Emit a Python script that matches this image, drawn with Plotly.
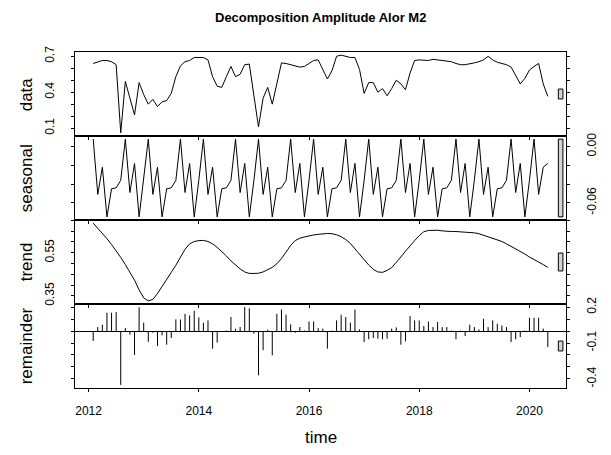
import plotly.graph_objects as go
from plotly.subplots import make_subplots

# ---------------- data ----------------
start_year = 2012
start_month = 2  # February

data = [0.64, 0.655, 0.665, 0.665, 0.655, 0.63, 0.06, 0.49, 0.35, 0.21,
        0.48, 0.38, 0.30, 0.34, 0.28, 0.32, 0.33, 0.39, 0.53, 0.62,
        0.655, 0.665, 0.69, 0.69, 0.69, 0.67, 0.53, 0.45, 0.44, 0.53,
        0.615, 0.53, 0.55, 0.63, 0.635, 0.37, 0.11, 0.35, 0.44, 0.30,
        0.48, 0.645, 0.64, 0.63, 0.615, 0.61, 0.615, 0.64, 0.665, 0.67,
        0.59, 0.51, 0.58, 0.70, 0.71, 0.70, 0.69, 0.69, 0.59, 0.39,
        0.48, 0.48, 0.40, 0.43, 0.37, 0.43, 0.50, 0.47, 0.42, 0.56,
        0.665, 0.67, 0.67, 0.665, 0.675, 0.67, 0.665, 0.66, 0.655, 0.64,
        0.63, 0.63, 0.635, 0.645, 0.655, 0.67, 0.70, 0.67, 0.65, 0.64,
        0.63, 0.61, 0.545, 0.47, 0.515, 0.585, 0.615, 0.64, 0.47, 0.365]

seasonal = [0.008, -0.051, -0.022, -0.075, -0.045, -0.044, -0.036, 0.008, -0.049, -0.018, -0.075, -0.036,
            0.008, -0.051, -0.022, -0.075, -0.045, -0.044, -0.036, 0.008, -0.049, -0.018, -0.075, -0.036,
            0.008, -0.051, -0.022, -0.075, -0.045, -0.044, -0.036, 0.008, -0.049, -0.018, -0.075, -0.036,
            0.008, -0.051, -0.022, -0.075, -0.045, -0.044, -0.036, 0.008, -0.049, -0.018, -0.075, -0.036,
            0.008, -0.051, -0.022, -0.075, -0.045, -0.044, -0.036, 0.008, -0.049, -0.018, -0.075, -0.036,
            0.008, -0.051, -0.022, -0.075, -0.045, -0.044, -0.036, 0.008, -0.049, -0.018, -0.075, -0.036,
            0.008, -0.051, -0.022, -0.075, -0.045, -0.044, -0.036, 0.008, -0.049, -0.018, -0.075, -0.036,
            0.008, -0.051, -0.022, -0.075, -0.045, -0.044, -0.036, 0.008, -0.049, -0.018, -0.075, -0.036,
            0.008, -0.051, -0.022, -0.018]

trend = [0.687, 0.664, 0.639, 0.615, 0.588, 0.559, 0.528, 0.495, 0.461, 0.423,
         0.378, 0.341, 0.327, 0.334, 0.361, 0.392, 0.423, 0.459, 0.492, 0.530,
         0.566, 0.591, 0.602, 0.606, 0.607, 0.602, 0.591, 0.575, 0.557, 0.535,
         0.512, 0.493, 0.475, 0.461, 0.454, 0.454, 0.455, 0.461, 0.470, 0.482,
         0.499, 0.523, 0.553, 0.584, 0.606, 0.617, 0.623, 0.629, 0.632, 0.635,
         0.638, 0.639, 0.638, 0.633, 0.624, 0.611, 0.593, 0.568, 0.544, 0.517,
         0.493, 0.473, 0.461, 0.459, 0.468, 0.481, 0.504, 0.530, 0.557, 0.579,
         0.606, 0.629, 0.647, 0.653, 0.655, 0.654, 0.651, 0.648, 0.648, 0.648,
         0.647, 0.647, 0.645, 0.642, 0.638, 0.631, 0.625, 0.619, 0.611, 0.602,
         0.591, 0.580, 0.566, 0.555, 0.544, 0.530, 0.519, 0.506, 0.495, 0.482]

remainder = [-0.083, 0.033, 0.053, 0.153, 0.153, 0.158, -0.45, 0.025, -0.03, -0.20,
             0.20, 0.07, -0.09, -0.014, -0.125, -0.036, -0.114, -0.058, 0.097, 0.097,
             0.144, 0.13, 0.17, 0.114, 0.07, 0.089, -0.147, -0.097, -0.005, 0.005,
             0.117, 0.019, 0.033, 0.20, 0.19, -0.022, -0.37, -0.16, 0.011, -0.203,
             0.144, 0.18, 0.136, 0.056, -0.014, 0.033, 0.005, 0.08, 0.08, 0.025,
             0.02, -0.147, 0.004, 0.089, 0.136, 0.117, 0.07, 0.18, 0.014, -0.092,
             -0.069, -0.058, -0.064, -0.069, -0.064, 0.02, 0.03, -0.114, -0.086, 0.125,
             0.089, 0.089, 0.042, 0.08, 0.033, 0.075, 0.033, 0.033, 0.004, -0.069,
             0.004, -0.042, 0.053, 0.033, 0.014, 0.103, 0.033, 0.089, 0.061, 0.047,
             0.033, -0.092, -0.069, -0.05, 0.004, 0.111, 0.111, 0.111, 0.02, -0.133]

panel_names = ["data", "seasonal", "trend", "remainder"]
x_tick_vals = [2012, 2014, 2016, 2018, 2020]
x_tick_text = ["2012", "2014", "2016", "2018", "2020"]

data_ticks = [0.1, 0.2, 0.3, 0.4, 0.5, 0.6, 0.7]
data_ticktext = ["0.1", "", "", "0.4", "", "", "0.7"]
seasonal_ticks = [-0.06, -0.04, -0.02, 0.00]
seasonal_ticktext = ["-0.06", "", "", "0.00"]
trend_ticks = [0.35, 0.40, 0.45, 0.50, 0.55, 0.60, 0.65, 0.70]
trend_ticktext = ["0.35", "", "", "", "0.55", "", "", ""]
remainder_ticks = [-0.4, -0.3, -0.2, -0.1, 0.0, 0.1, 0.2]
remainder_ticktext = ["-0.4", "", "", "-0.1", "", "", "0.2"]

title_text = "Decomposition Amplitude Alor M2"
x_title = "time"

# ---------------- figure ----------------
FONT = "Liberation Sans, Arial, sans-serif"
n = len(data)
t = [start_year + (start_month - 1 + i) / 12.0 for i in range(n)]
tmin, tmax = min(t), max(t)
xpad = 0.04 * (tmax - tmin)
xr = [tmin - xpad, tmax + xpad]

series = [data, seasonal, trend, remainder]
ticks = [(data_ticks, data_ticktext), (seasonal_ticks, seasonal_ticktext),
         (trend_ticks, trend_ticktext), (remainder_ticks, remainder_ticktext)]

fig = make_subplots(rows=4, cols=1, shared_xaxes=True, vertical_spacing=0)

# lines for first three panels
for r in range(3):
    fig.add_trace(go.Scatter(x=t, y=series[r], mode="lines",
                             line=dict(color="black", width=1), showlegend=False,
                             hoverinfo="skip"), row=r + 1, col=1)

# remainder as vertical lines from 0
hx, hy = [], []
for ti, v in zip(t, remainder):
    hx += [ti, ti, None]
    hy += [0, v, None]
fig.add_trace(go.Scatter(x=hx, y=hy, mode="lines", line=dict(color="black", width=1),
                         showlegend=False, hoverinfo="skip"), row=4, col=1)

ranges_ = [(min(s), max(s)) for s in series]
mx = min(hi - lo for lo, hi in ranges_)
dx = (xr[1] - xr[0]) / 64.0

shapes = []
for r in range(4):
    lo, hi = ranges_[r]
    pad = 0.04 * (hi - lo)
    yr = [lo - pad, hi + pad]
    tv, tt = ticks[r]
    right = (r % 2 == 1)
    yname = "yaxis" if r == 0 else f"yaxis{r + 1}"
    xname = "xaxis" if r == 0 else f"xaxis{r + 1}"
    fig.layout[yname].update(
        range=yr, showgrid=False, zeroline=(r == 3), zerolinecolor="black", zerolinewidth=1,
        showline=True, linecolor="black", linewidth=1, mirror="ticks",
        ticks="outside", ticklen=3, tickcolor="black", tickwidth=1,
        tickvals=tv, ticktext=tt, side="right" if right else "left",
        tickangle=-90, tickfont=dict(family=FONT, size=12, color="black"),
        ticklabelstandoff=12, fixedrange=True)
    fig.layout[xname].update(
        range=xr, showgrid=False, zeroline=False, showline=True, linecolor="black",
        linewidth=1, mirror=True, ticks="outside", ticklen=3, tickcolor="black",
        tickvals=x_tick_vals, ticktext=x_tick_text, showticklabels=(r == 3),
        tickfont=dict(family=FONT, size=12, color="black"), ticklabelstandoff=9)
    mid = (lo + hi) / 2.0
    xref = "x" if r == 0 else f"x{r + 1}"
    yref = "y" if r == 0 else f"y{r + 1}"
    shapes.append(dict(type="rect", xref=xref, yref=yref,
                       x0=xr[1] - dx, x1=xr[1] - 0.4 * dx,
                       y0=mid - mx / 2.0, y1=mid + mx / 2.0,
                       fillcolor="lightgray", line=dict(color="black", width=1)))

annotations = []
for r, name in enumerate(panel_names):
    yc = 1 - (r + 0.5) / 4.0
    annotations.append(dict(text=name, xref="paper", yref="paper", x=-50 / 504.0, y=yc,
                            textangle=-90, showarrow=False, xanchor="center", yanchor="middle",
                            font=dict(family=FONT, size=17, color="black")))
annotations.append(dict(text=x_title, xref="paper", yref="paper", x=0.5, y=-49 / 336.0,
                        showarrow=False, xanchor="center", yanchor="middle",
                        font=dict(family=FONT, size=17, color="black")))
annotations.append(dict(text="<b>" + title_text + "</b>", xref="paper", yref="paper",
                        x=0.5, y=1 + 34 / 336.0, showarrow=False, xanchor="center",
                        yanchor="middle", font=dict(family=FONT, size=13, color="black")))

fig.update_layout(width=611, height=455, margin=dict(l=75, r=32, t=52, b=67),
                  paper_bgcolor="white", plot_bgcolor="white",
                  shapes=shapes, annotations=annotations, showlegend=False)

fig.write_html("out.html", config={"displayModeBar": False})
